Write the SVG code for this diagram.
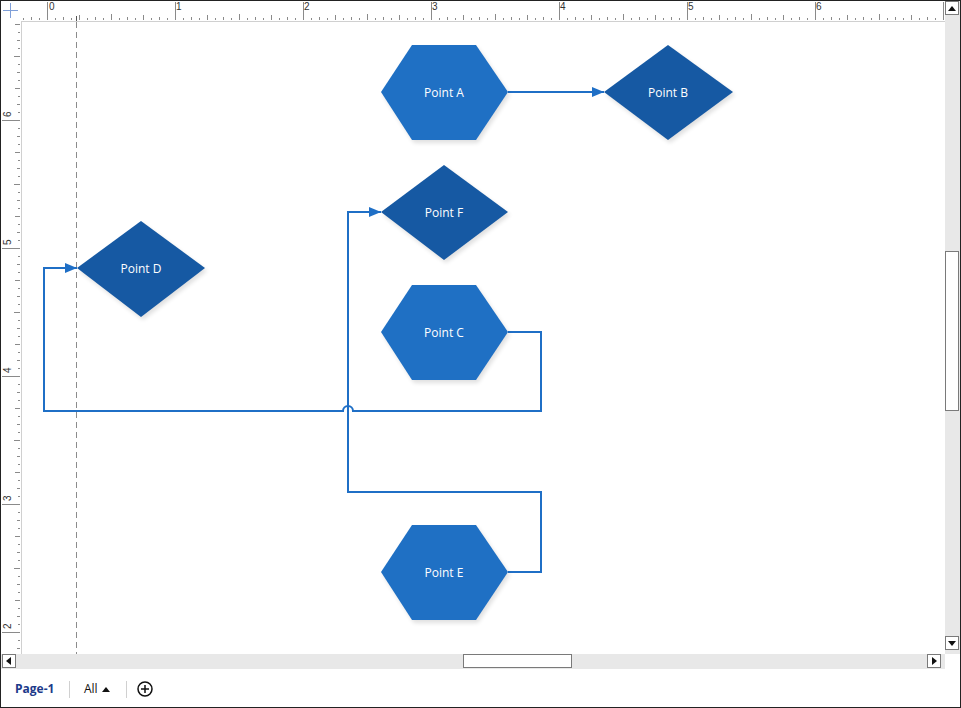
<svg xmlns="http://www.w3.org/2000/svg" width="961" height="708" viewBox="0 0 961 708">
<style>
.lbl{font-family:"Open Sans","Noto Sans","Liberation Sans",sans-serif;font-size:12px;fill:#ffffff;text-anchor:middle;dominant-baseline:central}
.hex{fill:#1f70c4}
.dia{fill:#1659a3}
.shadow{fill:#000;opacity:0.12;filter:url(#blur)}
.conn{fill:none;stroke:#1f6fc6;stroke-width:2}
.rnum{font-family:"Liberation Sans",Arial,sans-serif;font-size:10px;fill:#333}
.btn{fill:#fff;stroke:#7a7a7a;stroke-width:1}
.tri{fill:#111}
</style>
<defs>
<filter id="blur" x="-20%" y="-20%" width="140%" height="140%"><feGaussianBlur stdDeviation="2"/></filter>
<marker id="arr" viewBox="0 0 12 10" refX="12" refY="5" markerWidth="12" markerHeight="10" markerUnits="userSpaceOnUse" orient="auto">
<path d="M0,0 L12,5 L0,10 z" fill="#1f6fc6"/>
</marker>
<pattern id="hticks" patternUnits="userSpaceOnUse" x="47" y="0" width="128" height="21">
<path d="M0.5,2 V20 M8.5,18 V20 M16.5,17 V20 M24.5,18 V20 M32.5,15 V20 M40.5,18 V20 M48.5,17 V20 M56.5,18 V20 M64.5,14 V20 M72.5,18 V20 M80.5,17 V20 M88.5,18 V20 M96.5,15 V20 M104.5,18 V20 M112.5,17 V20 M120.5,18 V20" stroke="#8a8a8a" stroke-width="1"/>
</pattern>
<pattern id="vticks" patternUnits="userSpaceOnUse" x="0" y="120" width="21" height="128">
<path d="M2,0.5 H20 M18,8.5 H20 M17,16.5 H20 M18,24.5 H20 M15,32.5 H20 M18,40.5 H20 M17,48.5 H20 M18,56.5 H20 M14,64.5 H20 M18,72.5 H20 M17,80.5 H20 M18,88.5 H20 M15,96.5 H20 M18,104.5 H20 M17,112.5 H20 M18,120.5 H20" stroke="#8a8a8a" stroke-width="1"/>
</pattern>
</defs>

<rect x="0" y="0" width="961" height="708" fill="#ffffff"/>

<!-- rulers -->
<g id="rulers">
<rect x="21" y="0" width="924" height="21" fill="url(#hticks)"/>
<rect x="0" y="21" width="21" height="633" fill="url(#vticks)"/>
<line x1="21" y1="21.5" x2="945" y2="21.5" stroke="#d0d0d0"/>
<line x1="21.5" y1="21" x2="21.5" y2="654" stroke="#d0d0d0"/>
<path d="M3,10.5 H18 M10.5,3 V18" stroke="#7f9fd8" stroke-width="1"/>
<text class="rnum" x="49" y="10">0</text>
<text class="rnum" x="176" y="10">1</text>
<text class="rnum" x="304" y="10">2</text>
<text class="rnum" x="432" y="10">3</text>
<text class="rnum" x="560" y="10">4</text>
<text class="rnum" x="688" y="10">5</text>
<text class="rnum" x="816" y="10">6</text>
<text class="rnum" transform="translate(11,117) rotate(-90)">6</text>
<text class="rnum" transform="translate(11,245) rotate(-90)">5</text>
<text class="rnum" transform="translate(11,373) rotate(-90)">4</text>
<text class="rnum" transform="translate(11,501) rotate(-90)">3</text>
<text class="rnum" transform="translate(11,629) rotate(-90)">2</text>
<line x1="76.5" y1="16" x2="76.5" y2="21" stroke="#555"/>
</g>

<!-- guide -->
<line x1="76.5" y1="22" x2="76.5" y2="654" stroke="#8c8c8c" stroke-width="1" stroke-dasharray="6,4"/>

<!-- connectors -->
<g id="connectors">
<path class="conn" d="M508,92 H604" marker-end="url(#arr)"/>
<path class="conn" d="M508,332 H541 V411 H353 A5,5 0 0 0 343,411 H44 V268 H77" marker-end="url(#arr)"/>
<path class="conn" d="M508,572 H541 V492 H348 V212 H381" marker-end="url(#arr)"/>
</g>

<!-- nodes -->
<g id="pointA">
<polygon class="shadow" points="383,95 414,48 478,48 510,95 478,143 414,143"/>
<polygon class="hex" points="381,92 412,45 476,45 508,92 476,140 412,140"/>
<text class="lbl" x="444" y="92">Point A</text>
</g>
<g id="pointB">
<polygon class="shadow" points="606,95 670,48 735,95 670,143"/>
<polygon class="dia" points="604,92 668,45 733,92 668,140"/>
<text class="lbl" x="668" y="92">Point B</text>
</g>
<g id="pointF">
<polygon class="shadow" points="383,215 446,168 510,215 446,263"/>
<polygon class="dia" points="381,212 444,165 508,212 444,260"/>
<text class="lbl" x="444" y="212">Point F</text>
</g>
<g id="pointD">
<polygon class="shadow" points="79,271 143,224 207,271 143,320"/>
<polygon class="dia" points="77,268 141,221 205,268 141,317"/>
<text class="lbl" x="141" y="268">Point D</text>
</g>
<g id="pointC">
<polygon class="shadow" points="383,335 414,288 478,288 510,335 478,383 414,383"/>
<polygon class="hex" points="381,332 412,285 476,285 508,332 476,380 412,380"/>
<text class="lbl" x="444" y="332">Point C</text>
</g>
<g id="pointE">
<polygon class="shadow" points="383,575 414,528 478,528 510,575 478,623 414,623"/>
<polygon class="hex" points="381,572 412,525 476,525 508,572 476,620 412,620"/>
<text class="lbl" x="444" y="572">Point E</text>
</g>

<!-- scrollbars -->
<g id="vscroll">
<rect x="945" y="0" width="16" height="654" fill="#e8e8e8"/>
<rect class="btn" x="945.5" y="1.5" width="13" height="13"/>
<path class="tri" d="M948,11 L952,6 L956,11 z"/>
<rect class="btn" x="945.5" y="251.5" width="13" height="159"/>
<rect class="btn" x="945.5" y="636.5" width="13" height="13"/>
<path class="tri" d="M948,641 L956,641 L952,646 z"/>
</g>
<g id="hscroll">
<rect x="0" y="654" width="945" height="15" fill="#e8e8e8"/>
<rect class="btn" x="2.5" y="654.5" width="13" height="13"/>
<path class="tri" d="M11,657 L11,665 L6,661 z"/>
<rect class="btn" x="463.5" y="654.5" width="108" height="13"/>
<rect class="btn" x="927.5" y="654.5" width="13" height="13"/>
<path class="tri" d="M932,657 L932,665 L937,661 z"/>
</g>

<!-- page tabs -->
<g id="tabs">
<rect x="0" y="669" width="961" height="39" fill="#ffffff"/>
<text x="15" y="693" font-family="'Open Sans','Noto Sans','Liberation Sans',sans-serif" font-size="12" font-weight="bold" fill="#1c3a8a">Page-1</text>
<line x1="69.5" y1="681" x2="69.5" y2="698" stroke="#d0d0d0"/>
<text x="84" y="693" font-family="'Open Sans','Noto Sans','Liberation Sans',sans-serif" font-size="12" fill="#111">All</text>
<path d="M102,692 L106,687 L110,692 z" fill="#111"/>
<line x1="126.5" y1="681" x2="126.5" y2="698" stroke="#d0d0d0"/>
<circle cx="145" cy="689" r="7" fill="none" stroke="#111" stroke-width="1.5"/>
<path d="M141,689 H149 M145,685 V693" stroke="#111" stroke-width="1.5"/>
</g>

<rect x="0.5" y="0.5" width="960" height="707" fill="none" stroke="#222" stroke-width="1"/>
</svg>
